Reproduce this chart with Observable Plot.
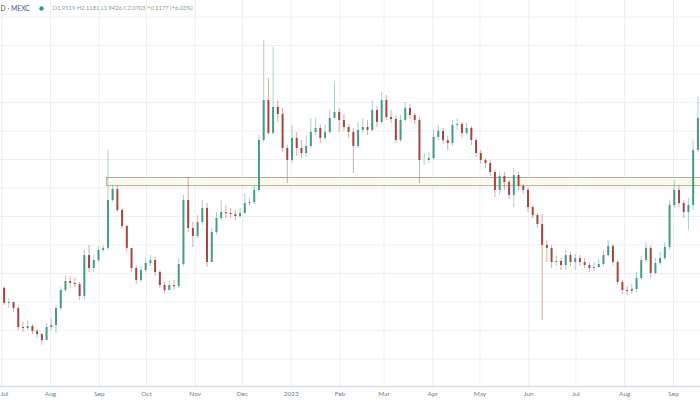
<!DOCTYPE html>
<html>
<head>
<meta charset="utf-8">
<script src="https://cdn.jsdelivr.net/npm/d3@7"></script>
<script src="https://cdn.jsdelivr.net/npm/@observablehq/plot@0.6"></script>
<style>
  html, body { margin: 0; padding: 0; background: #ffffff; }
  #chart { width: 700px; height: 400px; overflow: hidden; }
</style>
</head>
<body>
<div id="chart"></div>
<script>
// ---- Data (3-day candles) ----
const startDate = "2022-07-01";
const periodDays = 3;
const firstOpen = 0.695;
const closes = [
  0.590,0.597,0.554,0.421,0.414,0.428,0.393,0.372,0.330,0.421,
  0.435,0.554,0.681,0.744,0.730,0.723,0.639,0.926,0.835,0.891,
  0.962,0.976,1.312,1.390,1.242,1.130,0.976,0.835,0.751,0.821,
  0.870,0.891,0.807,0.716,0.681,0.716,0.709,0.863,1.312,1.116,
  1.060,1.158,1.256,0.877,1.088,1.186,1.228,1.221,1.214,1.200,
  1.221,1.291,1.298,1.383,1.733,2.014,1.783,1.965,1.916,1.677,
  1.593,1.748,1.677,1.642,1.691,1.790,1.818,1.748,1.790,1.888,
  1.930,1.874,1.825,1.790,1.691,1.804,1.825,1.804,1.944,1.860,
  2.014,1.895,1.881,1.733,1.874,1.958,1.909,1.874,1.593,1.593,
  1.607,1.755,1.797,1.733,1.712,1.839,1.846,1.783,1.818,1.733,
  1.642,1.593,1.572,1.509,1.383,1.481,1.439,1.348,1.488,1.411,
  1.383,1.263,1.207,1.144,0.997,0.976,0.877,0.884,0.856,0.926,
  0.877,0.905,0.877,0.856,0.835,0.842,0.863,0.926,0.990,0.877,
  0.737,0.681,0.674,0.688,0.765,0.891,0.976,0.800,0.870,0.905,
  0.983,1.277,1.383,1.291,1.228,1.277,1.663,1.888
];
const highs = [
  0.709,0.625,0.597,0.569,0.456,0.470,0.442,0.407,0.379,0.449,
  0.484,0.576,0.702,0.786,0.779,0.772,0.737,0.962,0.997,0.926,
  0.990,0.997,1.663,1.418,1.411,1.256,1.137,0.976,0.856,0.849,
  0.905,0.926,0.912,0.821,0.737,0.744,0.751,0.905,1.348,1.474,
  1.158,1.207,1.312,1.291,1.116,1.228,1.312,1.277,1.256,1.242,
  1.256,1.361,1.326,1.418,1.769,2.435,2.169,2.386,2.014,1.958,
  1.698,1.839,1.790,1.733,1.769,1.888,1.888,1.846,1.839,1.944,
  2.141,1.958,1.916,1.846,1.818,1.860,1.888,1.874,2.014,1.972,
  2.070,2.049,1.944,1.909,1.909,2.000,1.986,1.923,1.895,1.642,
  1.649,1.804,1.839,1.818,1.762,1.874,1.888,1.860,1.853,1.832,
  1.748,1.663,1.607,1.593,1.523,1.509,1.509,1.453,1.537,1.509,
  1.425,1.397,1.277,1.221,1.214,1.032,0.997,0.926,0.905,0.962,
  0.948,0.933,0.926,0.905,0.877,0.877,0.898,0.962,1.032,1.004,
  0.891,0.751,0.709,0.723,0.807,0.919,1.011,0.990,0.905,0.948,
  1.018,1.312,1.453,1.418,1.312,1.326,1.733,2.035
];
const lows = [
  0.576,0.554,0.526,0.400,0.386,0.400,0.372,0.344,0.295,0.330,
  0.400,0.379,0.540,0.667,0.695,0.702,0.611,0.611,0.807,0.807,
  0.877,0.948,0.962,1.298,1.228,1.109,0.948,0.807,0.723,0.737,
  0.807,0.849,0.779,0.695,0.660,0.681,0.681,0.695,0.849,1.088,
  0.983,1.046,1.137,0.842,0.877,1.067,1.172,1.186,1.186,1.172,
  1.186,1.214,1.270,1.284,1.369,1.719,1.769,1.769,1.860,1.649,
  1.432,1.572,1.621,1.607,1.614,1.677,1.769,1.712,1.733,1.776,
  1.888,1.790,1.797,1.748,1.502,1.677,1.783,1.769,1.790,1.825,
  1.846,1.874,1.853,1.712,1.719,1.860,1.881,1.846,1.432,1.558,
  1.572,1.593,1.733,1.705,1.663,1.691,1.804,1.748,1.769,1.698,
  1.614,1.565,1.537,1.481,1.333,1.348,1.383,1.319,1.263,1.383,
  1.354,1.228,1.186,1.116,0.470,0.877,0.835,0.849,0.821,0.821,
  0.849,0.821,0.849,0.835,0.807,0.814,0.835,0.849,0.919,0.856,
  0.716,0.653,0.646,0.653,0.667,0.751,0.877,0.765,0.786,0.856,
  0.891,0.962,1.256,1.263,1.186,1.102,1.242,1.649
];
// support / resistance zone
const zoneStart = "2022-09-06";
const zoneTop = 1.470;
const zoneBottom = 1.413;
// price grid levels (price axis itself is cropped off)
const gridLevels = [0.2,0.4,0.6,0.8,1.0,1.2,1.4,1.6,1.8,2.0,2.2,2.4,2.6];
// month ticks
const monthTicks = ["2022-07-01","2022-08-01","2022-09-01","2022-10-01","2022-11-01","2022-12-01",
  "2023-01-01","2023-02-01","2023-03-01","2023-04-01","2023-05-01","2023-06-01","2023-07-01","2023-08-01","2023-09-01"];
const monthLabels = ["Jul","Aug","Sep","Oct","Nov","Dec","2023","Feb","Mar","Apr","May","Jun","Jul","Aug","Sep"];
// legend header
const symbolText = "D · MEXC";
const ohlcText = "O1.9519 H2.1181 L1.9426 C2.0703 +0.1177 (+6.03%)";

// ---- Build table ----
const t0 = new Date(startDate);
const candles = closes.map((c, i) => {
  const open = i === 0 ? firstOpen : closes[i - 1];
  const start = d3.utcDay.offset(t0, i * periodDays);
  const mid = new Date(+start + periodDays * 864e5 / 2);
  return {date: mid, open, close: c, high: highs[i], low: lows[i], up: c >= open};
});
const months = monthTicks.map((d, i) => ({date: new Date(d), label: monthLabels[i], first: i === 0}));

const UP = "#459c84", DOWN = "#a5463f";
const font = "Lato, 'Open Sans', sans-serif";

const chart = Plot.plot({
  width: 700,
  height: 400,
  marginTop: 0, marginRight: 0, marginLeft: 0, marginBottom: 14,
  style: {background: "#ffffff", fontFamily: font, overflow: "hidden"},
  x: {type: "utc", domain: [new Date("2022-08-01"), new Date("2023-09-01")], range: [50, 673], axis: null},
  y: {type: "linear", domain: [0.2, 2.6], range: [358.5, 16.5], axis: null},
  marks: [
    Plot.gridY(gridLevels, {stroke: "#eef0f4", strokeOpacity: 1}),
    Plot.gridX(months, {x: "date", stroke: "#eceef2", strokeOpacity: 1}),
    Plot.frame({anchor: "bottom", stroke: "#d9dadd", strokeWidth: 1.5}),
    Plot.rect([{x1: new Date(zoneStart), x2: new Date("2023-10-01"), y1: zoneBottom, y2: zoneTop}],
      {x1: "x1", x2: "x2", y1: "y1", y2: "y2", fill: "#fcfaeb", stroke: "#aaa39c", strokeWidth: 0.9}),
    Plot.ruleX(candles, {x: "date", y1: "low", y2: "high", stroke: d => d.up ? UP : DOWN, strokeOpacity: 0.45, strokeWidth: 1}),
    Plot.ruleX(candles, {x: "date", y1: "open", y2: "close", stroke: d => d.up ? UP : DOWN, strokeWidth: 2}),
    Plot.text(months.filter(d => !d.first), {x: "date", text: "label", frameAnchor: "bottom", dy: 7, lineAnchor: "middle",
      fill: "#7a7d85", fontSize: 6.5}),
    Plot.text(months.filter(d => d.first), {text: "label", frameAnchor: "bottom-left", dx: 0, dy: 7, lineAnchor: "middle",
      textAnchor: "start", fill: "#7a7d85", fontSize: 6.5}),
    Plot.text([symbolText], {frameAnchor: "top-left", dx: 0, dy: 8, lineAnchor: "middle", textAnchor: "start",
      fill: "#555a64", fontSize: 6.8}),
    Plot.dot([0], {frameAnchor: "top-left", dx: 41, dy: 8, r: 2.2, fill: "#26a17f", stroke: "none"}),
    Plot.text([ohlcText], {frameAnchor: "top-left", dx: 52, dy: 8, lineAnchor: "middle", textAnchor: "start",
      fill: "#8c9a94", fontSize: 5.8})
  ]
});
document.getElementById("chart").appendChild(chart);
</script>
</body>
</html>
